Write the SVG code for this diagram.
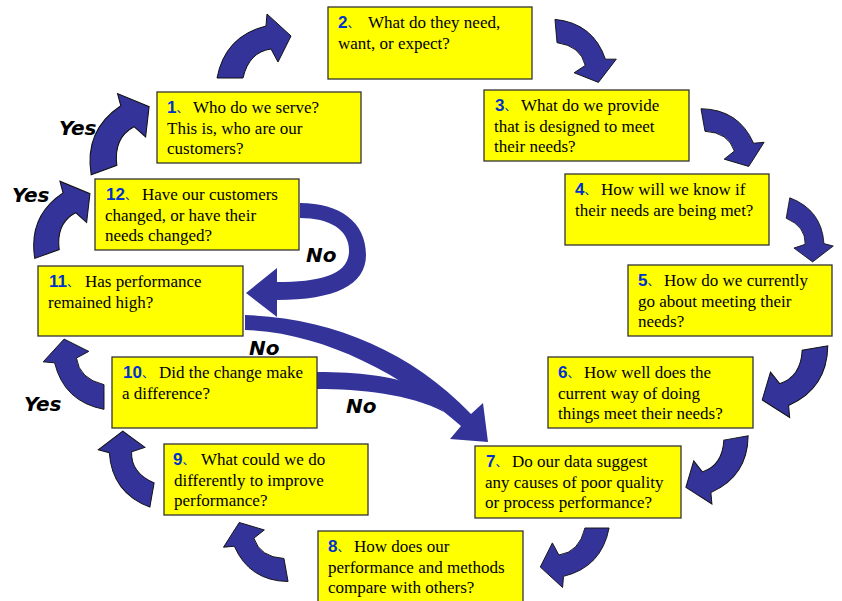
<svg xmlns="http://www.w3.org/2000/svg" xmlns:xlink="http://www.w3.org/1999/xlink" width="842" height="601" viewBox="0 0 842 601">
  <style>
    .box rect { fill: #ffff00; stroke: #333333; stroke-width: 1.3; }
    .t { font-family: "Liberation Serif", "Times New Roman", serif; font-size: 17px; fill: #000000; }
    .n { font-family: "Liberation Sans", Arial, sans-serif; font-weight: bold; font-size: 17px; fill: #0033cc; }
    .c { font-family: "Noto Sans CJK SC", sans-serif; font-size: 12px; fill: #0033cc; }
    .yn { font-family: "DejaVu Sans", sans-serif; font-weight: bold; font-style: italic; font-size: 20px; fill: #000000; }
    .ca { fill: #333399; stroke: #111111; stroke-width: 1; }
    .no { fill: #333399; }
  </style>
  <defs>
    <!-- curved block arrow: tail centred at origin heading up, bending clockwise to point right -->
    <path id="curved" d="M-13,0 Q-5,-42 36,-52 L37,-64 L61,-42 L48,-16 L41,-29 Q19,-26 13,0 Z"/>
  </defs>
  <rect width="842" height="601" fill="#ffffff"/>

  <g id="connectors">
    <!-- main cycle -->
    <use xlink:href="#curved" href="#curved" class="ca" transform="translate(230,78)"/>
    <use xlink:href="#curved" href="#curved" class="ca" transform="translate(556,31) rotate(85) scale(0.9)"/>
    <use xlink:href="#curved" href="#curved" class="ca" transform="translate(703,120) rotate(80) scale(0.88)"/>
    <use xlink:href="#curved" href="#curved" class="ca" transform="translate(788,208) rotate(100) scale(0.8)"/>
    <use xlink:href="#curved" href="#curved" class="ca" transform="translate(815,348) rotate(170)"/>
    <use xlink:href="#curved" href="#curved" class="ca" transform="translate(736,438) rotate(170) scale(0.95)"/>
    <use xlink:href="#curved" href="#curved" class="ca" transform="translate(597,528) rotate(180) scale(0.93)"/>
    <use xlink:href="#curved" href="#curved" class="ca" transform="translate(286,570) rotate(-100) scale(0.9)"/>
    <use xlink:href="#curved" href="#curved" class="ca" transform="translate(152,495) rotate(-80) scale(0.95)"/>
    <use xlink:href="#curved" href="#curved" class="ca" transform="translate(104,397) rotate(-90) scale(0.95)"/>
    <use xlink:href="#curved" href="#curved" class="ca" transform="translate(47,254) rotate(-20)"/>
    <use xlink:href="#curved" href="#curved" class="ca" transform="translate(104,170) rotate(-20) scale(1.05)"/>
    <!-- "No" branches -->
    <path class="no" d="M300,203 C340,203 366,222 366,255 C366,285 335,300 277,300 L277,317 L246,293 L277,268 L277,282 C320,282 348,275 349,252 C350,230 330,218 300,218 Z"/>
    <path class="no" d="M245,315 C330,318 410,350 471,414 L483,403 L488,442 L450,439 L461,426 C400,372 320,332 245,330 Z"/>
    <path class="no" d="M317,372 C360,372 390,376 415,385 L444,412 C410,394 360,389 317,389 Z"/>
    <!-- branch labels -->
    <text class="yn" x="59" y="135">Yes</text>
    <text class="yn" x="12" y="202">Yes</text>
    <text class="yn" x="24" y="411">Yes</text>
    <text class="yn" x="306" y="262">No</text>
    <text class="yn" x="249" y="355">No</text>
    <text class="yn" x="346" y="413">No</text>
  </g>

  <g id="n1" class="box">
    <rect x="157" y="92" width="204" height="71"/>
    <text class="t"><tspan class="n" x="167" y="113">1</tspan><tspan class="c">、</tspan><tspan x="193" y="113">Who do we serve?</tspan><tspan x="167" y="133.5">This is, who are our</tspan><tspan x="167" y="154">customers?</tspan></text>
  </g>
  <g id="n2" class="box">
    <rect x="328" y="7" width="204" height="72"/>
    <text class="t"><tspan class="n" x="338" y="28">2</tspan><tspan class="c">、</tspan><tspan x="368" y="28">What do they need,</tspan><tspan x="338" y="48.5">want, or expect?</tspan></text>
  </g>
  <g id="n3" class="box">
    <rect x="484" y="90" width="205" height="71"/>
    <text class="t"><tspan class="n" x="495" y="111">3</tspan><tspan class="c">、</tspan><tspan x="521" y="111">What do we provide</tspan><tspan x="494" y="131.5">that is designed to meet</tspan><tspan x="494" y="152">their needs?</tspan></text>
  </g>
  <g id="n4" class="box">
    <rect x="565" y="174" width="204" height="71"/>
    <text class="t"><tspan class="n" x="575" y="195">4</tspan><tspan class="c">、</tspan><tspan x="601" y="195">How will we know if</tspan><tspan x="575" y="215.5">their needs are being met?</tspan></text>
  </g>
  <g id="n5" class="box">
    <rect x="628" y="265" width="204" height="71"/>
    <text class="t"><tspan class="n" x="638" y="286">5</tspan><tspan class="c">、</tspan><tspan x="664" y="286">How do we currently</tspan><tspan x="638" y="306.5">go about meeting their</tspan><tspan x="638" y="327">needs?</tspan></text>
  </g>
  <g id="n6" class="box">
    <rect x="548" y="357" width="205" height="71"/>
    <text class="t"><tspan class="n" x="558" y="378">6</tspan><tspan class="c">、</tspan><tspan x="584" y="378">How well does the</tspan><tspan x="558" y="398.5">current way of doing</tspan><tspan x="558" y="419">things meet their needs?</tspan></text>
  </g>
  <g id="n7" class="box">
    <rect x="475" y="446" width="206" height="72"/>
    <text class="t"><tspan class="n" x="486" y="467">7</tspan><tspan class="c">、</tspan><tspan x="512" y="467">Do our data suggest</tspan><tspan x="485" y="487.5">any causes of poor quality</tspan><tspan x="485" y="508">or process performance?</tspan></text>
  </g>
  <g id="n8" class="box">
    <rect x="318" y="531" width="205" height="72"/>
    <text class="t"><tspan class="n" x="328" y="552">8</tspan><tspan class="c">、</tspan><tspan x="354" y="552">How does our</tspan><tspan x="328" y="572.5">performance and methods</tspan><tspan x="328" y="593">compare with others?</tspan></text>
  </g>
  <g id="n9" class="box">
    <rect x="164" y="444" width="204" height="71"/>
    <text class="t"><tspan class="n" x="173" y="465">9</tspan><tspan class="c">、</tspan><tspan x="201" y="465">What could we do</tspan><tspan x="174" y="485.5">differently to improve</tspan><tspan x="174" y="506">performance?</tspan></text>
  </g>
  <g id="n10" class="box">
    <rect x="112" y="357" width="205" height="71"/>
    <text class="t"><tspan class="n" x="123" y="378">10</tspan><tspan class="c">、</tspan><tspan x="159" y="378">Did the change make</tspan><tspan x="122" y="398.5">a difference?</tspan></text>
  </g>
  <g id="n11" class="box">
    <rect x="38" y="266" width="205" height="70"/>
    <text class="t"><tspan class="n" x="49" y="287">11</tspan><tspan class="c">、</tspan><tspan x="85" y="287">Has performance</tspan><tspan x="48" y="307.5">remained high?</tspan></text>
  </g>
  <g id="n12" class="box">
    <rect x="95" y="179" width="204" height="71"/>
    <text class="t"><tspan class="n" x="106" y="200">12</tspan><tspan class="c">、</tspan><tspan x="142" y="200">Have our customers</tspan><tspan x="105" y="220.5">changed, or have their</tspan><tspan x="105" y="241">needs changed?</tspan></text>
  </g>
</svg>
